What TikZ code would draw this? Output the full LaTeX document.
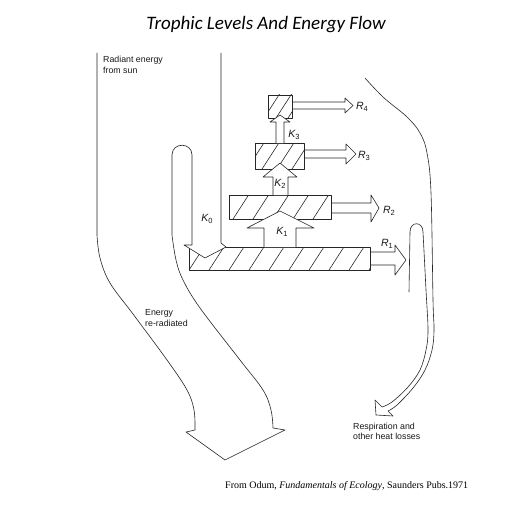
\documentclass[tikz,border=0pt]{standalone}
\usepackage{fontspec}
\setmainfont{Liberation Serif}
\setsansfont{Liberation Sans}
\newfontfamily\titlefont{Carlito}
\newcommand\klab[2]{{\itshape #1}\raisebox{-2.5pt}{\fontsize{7.5}{7.5}\selectfont #2}}
\newcommand\hatchbox[6]{%
  \begin{scope}
    \clip (#1,#2) rectangle (#3,#4);
    \pgfmathsetmacro\hsA{#1-40+#6}
    \pgfmathsetmacro\hsB{#1-40+#6+#5}
    \foreach \xx in {\hsA,\hsB,...,#3} {
      \draw[ln] (\xx,#4) ++(-10,15.5) -- ++(55,-85);
    }
  \end{scope}
  \draw[ln] (#1,#2) rectangle (#3,#4);
}
\begin{document}
\begin{tikzpicture}[x=1pt,y=-1pt,
  ln/.style={line width=0.6pt, draw=black!85, line join=round},
  lab/.style={font=\sffamily\fontsize{8.8}{10}\selectfont, inner sep=0pt, text=black!90},
  klabel/.style={font=\sffamily\fontsize{10.5}{10}\selectfont, inner sep=0pt, text=black!90}]
\useasboundingbox[fill=white] (0,0) rectangle (532,516);

% title and caption
\node[anchor=base, inner sep=0pt] (title) at (266,30)
  {\titlefont\itshape\fontsize{19}{21}\selectfont Trophic Levels And Energy Flow};
\node[anchor=base west, inner sep=0pt] (caption) at (225,488)
  {\fontsize{10}{12}\selectfont From Odum, \textit{Fundamentals of  Ecology}, Saunders Pubs.1971};

% trophic boxes
\hatchbox{189}{247}{370}{270}{20}{0}
\hatchbox{229}{195}{331}{219}{20}{4}
\hatchbox{255}{143}{304}{169}{15}{2}
\hatchbox{268}{95}{292}{118}{12}{0}

% sun / re-radiated flow with absorbed part
\filldraw[ln, fill=white] (221,53) -- (221,243) -- (226,247) -- (205,258) -- (184,245) -- (192,245)
  -- (192,155) .. controls (192,142) and (172,142) .. (172,155)
  -- plot[smooth, tension=0.6] coordinates {(172,235) (176,260) (183,280) (200,308) (240,360) (263,390) (271,410) (273,428)}
  -- (285,430) -- (225,460) -- (186,432)
  -- plot[smooth, tension=0.6] coordinates {(195,430) (194,410) (187,390) (167,360) (133,314) (110,283) (100,258) (97,235)}
  -- (97,53);

% energy transfers between levels
\filldraw[ln, fill=white] (264,247) -- (264,228) -- (247,228) -- (280,211) -- (314,228) -- (296,228) -- (296,247);
\filldraw[ln, fill=white] (273,195) -- (273,177) -- (263,177) -- (280,163) -- (297,177) -- (288,177) -- (288,195);
\filldraw[ln, fill=white] (276,143) -- (276,122) -- (270,122) -- (280,115) -- (290,122) -- (284,122) -- (284,143);

% respiration arrows
\draw[ln] (292,102) -- (345,102) -- (345,98) -- (353,105.5) -- (345,113) -- (345,109) -- (292,109);
\draw[ln] (304,150) -- (346,150) -- (346,144) -- (356,154) -- (346,164) -- (346,158) -- (304,158);
\draw[ln] (331,203) -- (371,203) -- (371,195) -- (379,208) -- (371,222) -- (371,213) -- (331,213);
\draw[ln] (370,252) -- (395,252) -- (395,245) -- (406,260) -- (395,275) -- (395,265) -- (370,265);

% respiration and heat losses
\draw[ln] (409,292) -- (410,232) .. controls (410,221) and (423,221) .. (423,232)
  -- plot[smooth, tension=0.6] coordinates {(423,232) (426,290) (428,330) (426,350) (420,370) (408,387) (392,402) (382,407)}
  -- (375,400) -- (376,415) -- (393,416) -- (388,411)
  -- plot[smooth, tension=0.6] coordinates {(388,411) (397,405) (413,388) (425,370) (432,350) (434,330) (433,300) (431,193) (427,153) (420,133) (407,117) (383,97) (365,78)};

% labels
\node[lab, anchor=base west] (rad1) at (103,63) {Radiant energy};
\node[lab, anchor=base west] (rad2) at (103,73.5) {from sun};
\node[lab, anchor=base west] (ere1) at (145,315) {Energy};
\node[lab, anchor=base west] (ere2) at (145,326) {re-radiated};
\node[lab, anchor=base west] (resp1) at (353,429) {Respiration and};
\node[lab, anchor=base west] (resp2) at (353,439) {other heat losses};

\node[klabel] (k0) at (207,219) {\klab{K}{0}};
\node[klabel] (k1) at (282,232) {\klab{K}{1}};
\node[klabel] (k2) at (280,184) {\klab{K}{2}};
\node[klabel] (k3) at (294,135) {\klab{K}{3}};
\node[klabel] (r4) at (362,107) {\klab{R}{4}};
\node[klabel] (r3) at (364,156) {\klab{R}{3}};
\node[klabel] (r2) at (389,211) {\klab{R}{2}};
\node[klabel] (r1) at (387,244) {\klab{R}{1}};
\end{tikzpicture}
\end{document}
